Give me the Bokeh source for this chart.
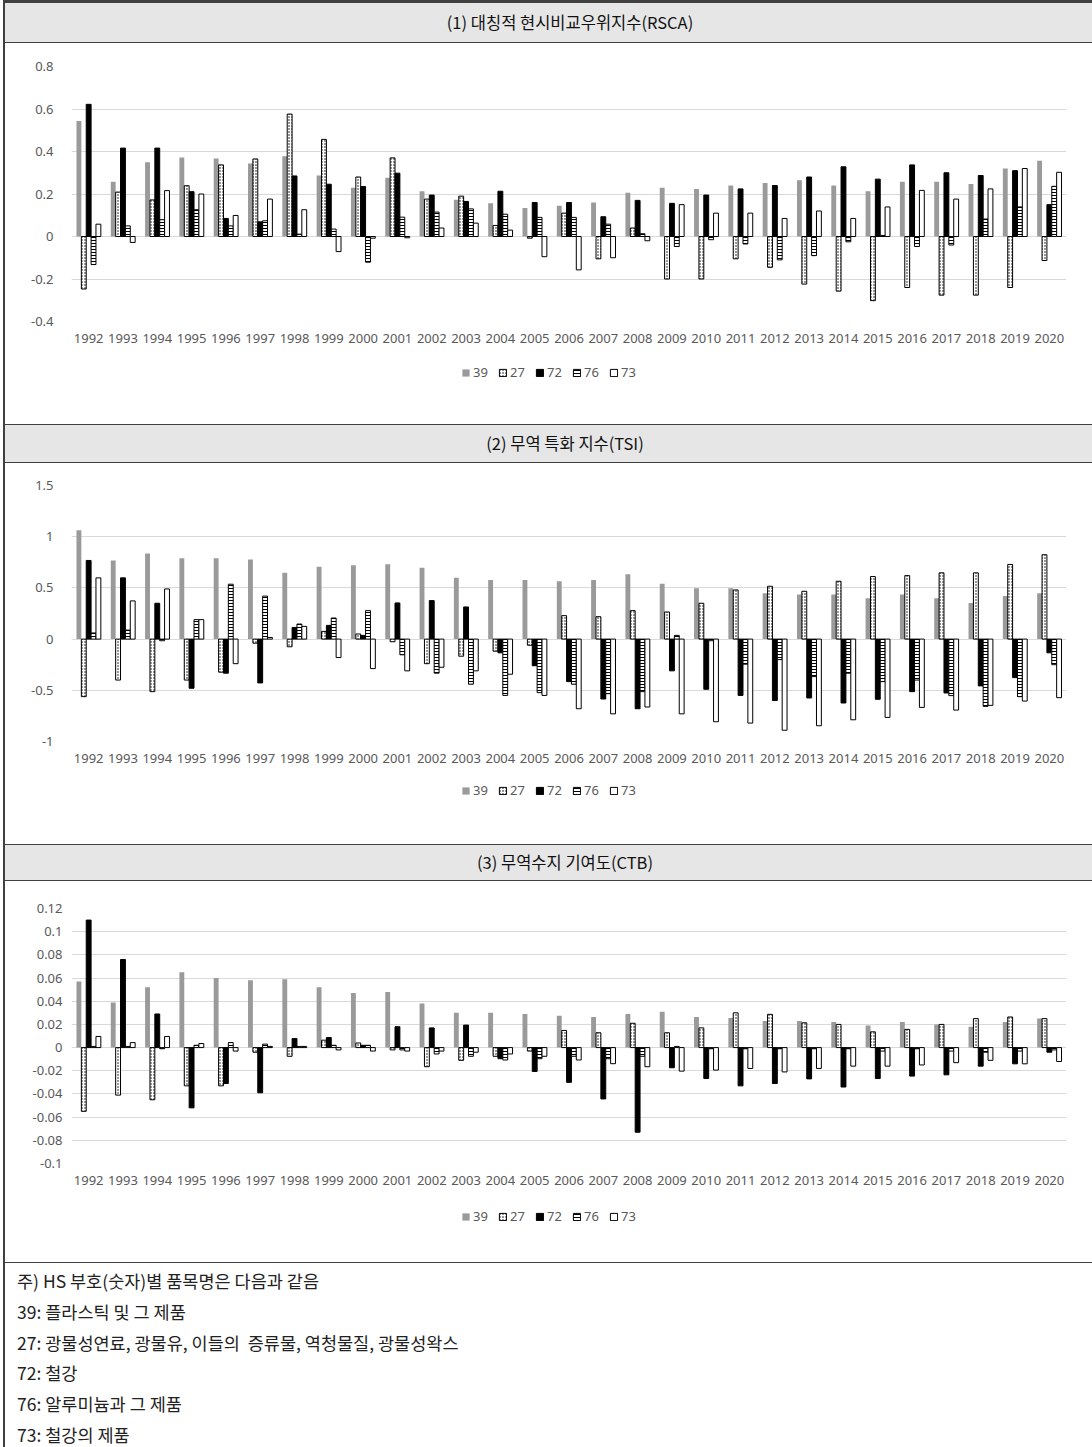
from bokeh.plotting import figure
from bokeh.layouts import column, row
from bokeh.models import (Range1d, FactorRange, FixedTicker, Legend, LegendItem,
                          ColumnDataSource, Div)
from bokeh.transform import dodge
from bokeh.core.properties import value
from bokeh.embed import file_html
from bokeh.resources import INLINE

# ---------------- data ----------------
years = [str(y) for y in range(1992, 2021)]
codes = ["39", "27", "72", "76", "73"]

rsca_39 = [0.543, 0.258, 0.35, 0.372, 0.367, 0.343, 0.378, 0.287, 0.23, 0.276, 0.213, 0.173, 0.156, 0.134, 0.145,
           0.16, 0.206, 0.23, 0.224, 0.24, 0.252, 0.265, 0.24, 0.213, 0.258, 0.258, 0.247, 0.32, 0.356]
rsca_27 = [-0.247, 0.209, 0.172, 0.239, 0.337, 0.365, 0.576, 0.457, 0.28, 0.37, 0.176, 0.19, 0.052, -0.008, 0.11,
           -0.105, 0.04, -0.2, -0.2, -0.105, -0.145, -0.224, -0.257, -0.302, -0.24, -0.276, -0.276, -0.24, -0.113]
rsca_72 = [0.622, 0.416, 0.416, 0.211, 0.085, 0.069, 0.285, 0.246, 0.235, 0.298, 0.195, 0.165, 0.213, 0.16, 0.16,
           0.093, 0.17, 0.156, 0.195, 0.224, 0.24, 0.28, 0.328, 0.27, 0.337, 0.3, 0.287, 0.31, 0.15]
rsca_76 = [-0.132, 0.05, 0.079, 0.126, 0.05, 0.074, 0.011, 0.035, -0.121, 0.091, 0.115, 0.13, 0.105, 0.09, 0.09,
           0.058, 0.013, -0.047, -0.015, -0.035, -0.11, -0.09, -0.025, 0.005, -0.047, -0.04, 0.082, 0.139, 0.236]
rsca_73 = [0.058, -0.028, 0.216, 0.2, 0.099, 0.176, 0.126, -0.071, -0.008, -0.006, 0.04, 0.063, 0.03, -0.095, -0.157,
           -0.1, -0.02, 0.15, 0.11, 0.11, 0.085, 0.12, 0.085, 0.139, 0.217, 0.176, 0.224, 0.32, 0.302]

tsi_39 = [1.062, 0.768, 0.837, 0.79, 0.79, 0.778, 0.647, 0.706, 0.72, 0.732, 0.696, 0.598, 0.578, 0.578, 0.565,
          0.578, 0.634, 0.54, 0.497, 0.497, 0.448, 0.435, 0.435, 0.4, 0.435, 0.4, 0.353, 0.42, 0.448]
tsi_27 = [-0.562, -0.4, -0.513, -0.4, -0.323, -0.04, -0.075, 0.075, 0.05, -0.026, -0.24, -0.167, -0.118, -0.06, 0.229,
          0.219, 0.278, 0.265, 0.35, 0.48, 0.516, 0.467, 0.565, 0.611, 0.62, 0.647, 0.647, 0.729, 0.824]
tsi_72 = [0.768, 0.598, 0.35, -0.48, -0.333, -0.428, 0.114, 0.134, 0.036, 0.353, 0.376, 0.314, -0.134, -0.26, -0.415,
          -0.585, -0.68, -0.31, -0.49, -0.55, -0.6, -0.575, -0.624, -0.588, -0.513, -0.526, -0.457, -0.376, -0.134]
tsi_76 = [0.06, 0.088, -0.016, 0.19, 0.536, 0.42, 0.147, 0.206, 0.278, -0.153, -0.333, -0.44, -0.55, -0.523, -0.44,
          -0.533, -0.513, 0.036, -0.016, -0.245, -0.2, -0.366, -0.333, -0.415, -0.4, -0.552, -0.657, -0.562, -0.25]
tsi_73 = [0.598, 0.373, 0.49, 0.19, -0.24, 0.016, 0.124, -0.18, -0.288, -0.31, -0.275, -0.31, -0.343, -0.55, -0.68,
          -0.73, -0.663, -0.73, -0.807, -0.82, -0.89, -0.846, -0.788, -0.765, -0.667, -0.693, -0.647, -0.605, -0.572]

ctb_39 = [0.057, 0.039, 0.052, 0.065, 0.06, 0.058, 0.059, 0.052, 0.047, 0.048, 0.038, 0.03, 0.03, 0.029, 0.0275,
          0.0264, 0.029, 0.031, 0.0264, 0.0255, 0.023, 0.023, 0.022, 0.019, 0.022, 0.02, 0.018, 0.022, 0.025]
ctb_27 = [-0.055, -0.041, -0.045, -0.033, -0.033, -0.004, -0.0075, 0.0064, 0.004, -0.002, -0.0165, -0.011, -0.0075,
          -0.003, 0.0148, 0.0128, 0.021, 0.0128, 0.017, 0.03, 0.0287, 0.0214, 0.02, 0.0136, 0.0157, 0.02, 0.025,
          0.0264, 0.025]
ctb_72 = [0.11, 0.076, 0.029, -0.052, -0.031, -0.039, 0.0078, 0.0087, 0.002, 0.018, 0.017, 0.0194, -0.0096, -0.0206,
          -0.03, -0.0443, -0.073, -0.0174, -0.0267, -0.033, -0.031, -0.027, -0.034, -0.0267, -0.0246, -0.0235,
          -0.016, -0.014, -0.004]
ctb_76 = [0.001, 0.001, -0.001, 0.002, 0.0043, 0.003, 0.001, 0.002, 0.002, -0.002, -0.0055, -0.0075, -0.0107,
          -0.0096, -0.0075, -0.0096, -0.0075, 0.001, -0.001, -0.001, -0.001, -0.001, -0.001, -0.003, -0.001, -0.003,
          -0.004, -0.003, -0.002]
ctb_73 = [0.0096, 0.0043, 0.0096, 0.0035, -0.003, 0.001, 0.001, -0.002, -0.003, -0.003, -0.003, -0.004, -0.0055,
          -0.0075, -0.0107, -0.0139, -0.0165, -0.0203, -0.0194, -0.018, -0.021, -0.018, -0.016, -0.016, -0.015,
          -0.013, -0.011, -0.014, -0.012]

rsca_ticks = [-0.4, -0.2, 0, 0.2, 0.4, 0.6, 0.8]
rsca_labels = ["-0.4", "-0.2", "0", "0.2", "0.4", "0.6", "0.8"]
tsi_ticks = [-1, -0.5, 0, 0.5, 1, 1.5]
tsi_labels = ["-1", "-0.5", "0", "0.5", "1", "1.5"]
ctb_ticks = [-0.1, -0.08, -0.06, -0.04, -0.02, 0, 0.02, 0.04, 0.06, 0.08, 0.1, 0.12]
ctb_labels = ["-0.1", "-0.08", "-0.06", "-0.04", "-0.02", "0", "0.02", "0.04", "0.06", "0.08", "0.1", "0.12"]

titles = ["(1) 대칭적 현시비교우위지수(RSCA)", "(2) 무역 특화 지수(TSI)", "(3) 무역수지 기여도(CTB)"]
notes = ["주) HS 부호(숫자)별 품목명은 다음과 같음",
         "39: 플라스틱 및 그 제품",
         "27: 광물성연료, 광물유, 이들의&nbsp; 증류물, 역청물질, 광물성왁스",
         "72: 철강",
         "76: 알루미늄과 그 제품",
         "73: 철강의 제품"]

# ---------------- styling ----------------
FONT = "Noto Sans"
KFONT = "Noto Sans CJK KR"
W = 1087
BORDER = "#404040"
HDR_BG = "#e6e6e6"
LBL = "#595959"
LEFT = 66
RIGHT = 26

styles = {
    "39": dict(fill_color="#9a9a9a", line_color=None),
    "27": dict(fill_color="white", line_color="black", line_width=1, hatch_pattern="dot",
               hatch_scale=3, hatch_color="black", hatch_weight=1.6),
    "72": dict(fill_color="black", line_color="black", line_width=1),
    "76": dict(fill_color="white", line_color="black", line_width=1, hatch_pattern="horizontal_line",
               hatch_scale=3, hatch_color="black", hatch_weight=1),
    "73": dict(fill_color="white", line_color="black", line_width=1),
}
offsets = [-0.284, -0.142, 0.0, 0.142, 0.284]
BAR_W = 0.142


def header(title, h, top_w, lh, pad_left):
    return Div(text=title, width=W, height=h, margin=(0, 0, 0, 0),
               styles={"box-sizing": "border-box", "background-color": HDR_BG,
                       "border-top": f"{top_w}px solid {BORDER}", "border-bottom": f"1px solid {BORDER}",
                       "text-align": "center", "padding-left": f"{pad_left}px", "font-family": KFONT,
                       "font-size": "16.5px", "line-height": f"{lh}px", "color": "#111111",
                       "overflow": "hidden"})


def chart(vals, ticks, labels, ylo, yhi, h, top, bottom, ystand):
    p = figure(width=W, height=h, x_range=FactorRange(*years), y_range=Range1d(ylo, yhi),
               min_border_top=top, min_border_bottom=bottom, min_border_left=LEFT, min_border_right=RIGHT,
               toolbar_location=None, output_backend="svg", outline_line_color=None,
               background_fill_color="white", border_fill_color="white")
    p.x_range.range_padding = 0
    data = dict(year=years)
    for c, v in zip(codes, vals):
        data["s" + c] = v
    src = ColumnDataSource(data)
    for c, off in zip(codes, offsets):
        p.vbar(x=dodge("year", off, range=p.x_range), top="s" + c, bottom=0, width=BAR_W,
               source=src, **styles[c])
    p.xgrid.visible = False
    p.ygrid.ticker = FixedTicker(ticks=ticks)
    p.ygrid.grid_line_color = "#d9d9d9"
    p.ygrid.grid_line_width = 1
    ya = p.yaxis[0]
    ya.ticker = FixedTicker(ticks=ticks)
    ya.major_label_overrides = {t: l for t, l in zip(ticks, labels)}
    for ax in (p.xaxis[0], ya):
        ax.axis_line_color = None
        ax.major_tick_line_color = None
        ax.minor_tick_line_color = None
        ax.major_tick_out = 0
        ax.major_tick_in = 0
        ax.major_label_text_font = FONT
        ax.major_label_text_font_size = "13px"
        ax.major_label_text_color = LBL
    ya.major_label_standoff = ystand
    p.xaxis[0].major_label_standoff = 12
    return p


def legend_fig(h, leg_loc):
    # legend-only strip below each chart; proxy renderers sit outside the visible range
    p = figure(width=W, height=h, x_range=Range1d(0, 1), y_range=Range1d(0, 1),
               min_border_top=0, min_border_bottom=0, min_border_left=LEFT, min_border_right=RIGHT,
               toolbar_location=None, output_backend="svg", outline_line_color=None,
               x_axis_type=None, y_axis_type=None, background_fill_color="white",
               border_fill_color="white")
    proxy = ColumnDataSource(dict(x=[-5.0], top=[-5.0]))
    rs = [p.vbar(x="x", top="top", bottom=-6.0, width=0.1, source=proxy, **styles[c]) for c in codes]
    legend = Legend(items=[LegendItem(label=value(c), renderers=[r]) for c, r in zip(codes, rs)],
                    orientation="horizontal", location=leg_loc, border_line_color=None,
                    background_fill_alpha=0, glyph_width=9, glyph_height=9, label_text_font=FONT,
                    label_text_font_size="13px", label_text_color=LBL, label_standoff=3, spacing=10,
                    label_width=15, padding=3, margin=0)
    p.add_layout(legend)
    return p


h1 = header(titles[0], 43, 3, 38, 43)
c1 = chart([rsca_39, rsca_27, rsca_72, rsca_76, rsca_73], rsca_ticks, rsca_labels, -0.4, 0.8,
           309, 23, 31, 18)
l1 = legend_fig(72, (390, 43))
h2 = header(titles[1], 39, 1, 37, 33)
c2 = chart([tsi_39, tsi_27, tsi_72, tsi_76, tsi_73], tsi_ticks, tsi_labels, -1, 1.5,
           309, 22, 31, 18)
l2 = legend_fig(72, (390, 45))
h3 = header(titles[2], 37, 1, 35, 33)
c3 = chart([ctb_39, ctb_27, ctb_72, ctb_76, ctb_73], ctb_ticks, ctb_labels, -0.1, 0.12,
           311, 27, 29, 9)
l3 = legend_fig(70, (390, 37))

FH = 185
foot_html = "".join(f"<div style='height:30.8px;line-height:30.8px;white-space:nowrap'>{n}</div>" for n in notes)
foot = Div(text=foot_html, width=W, height=FH, margin=(0, 0, 0, 0),
           styles={"box-sizing": "border-box", "border-top": f"1px solid {BORDER}",
                   "padding-left": "12px", "padding-top": "3px", "font-family": KFONT,
                   "font-size": "17.5px", "color": "#222222", "overflow": "hidden"})

TOTAL_H = 43 + 381 + 39 + 381 + 37 + 381 + FH
bar = Div(text="", width=5, height=TOTAL_H, margin=(0, 0, 0, 0),
          styles={"box-sizing": "border-box", "background-color": "white",
                  "border-right": f"2px solid {BORDER}"})

layout = row(bar, column(h1, c1, l1, h2, c2, l2, h3, c3, l3, foot, spacing=0), spacing=0)

with open("out.html", "w") as f:
    f.write(file_html(layout, INLINE))
